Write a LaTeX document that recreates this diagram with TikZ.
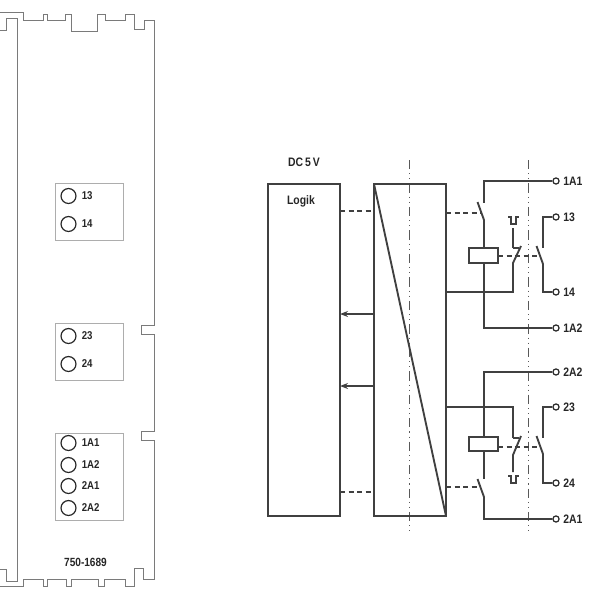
\documentclass[tikz,border=0pt]{standalone}
\usetikzlibrary{arrows.meta}
\usepackage{fontspec}
\setmainfont[FakeStretch=0.85]{Liberation Sans}
\tikzset{
  outline/.style={draw=black!52,line width=1pt},
  panel/.style={draw=black!32,line width=0.8pt,fill=white,rectangle,inner sep=0,outer sep=0,anchor=north west},
  led/.style={draw=black!85,line width=0.9pt,circle,minimum size=11.2pt,inner sep=0},
  ledlabel/.style={anchor=west,inner sep=0,font=\bfseries\fontsize{8.5}{9}\selectfont,text=black!85},
  block/.style={draw=black!75,line width=1.4pt,rectangle,inner sep=0,outer sep=0,anchor=north west},
  wire/.style={draw=black!75,line width=1.4pt},
  dashwire/.style={wire,dash pattern=on 4pt off 2.4pt},
  term/.style={draw=black!85,line width=0.9pt,fill=white,circle,minimum size=4.6pt,inner sep=0},
  termlabel/.style={anchor=west,inner sep=0,font=\bfseries\fontsize{9.2}{10}\selectfont,text=black!85},
  axis/.style={draw=black!65,line width=0.7pt,dash pattern=on 7pt off 3pt on 0.8pt off 3pt on 0.8pt off 3pt},
  coil/.style={draw=black!75,line width=1.4pt,fill=white,rectangle,outer sep=0,minimum width=21.75pt,inner sep=0},
}
\begin{document}
\begin{tikzpicture}[x=0.75pt,y=-0.75pt]
\useasboundingbox (0,0) rectangle (600,600);
% housing
\draw[outline] (0,30.5)--(6.5,30.5)--(6.5,18.5)--(17.5,18.5)--(17.5,581.5)--(6.5,581.5)--(6.5,569.5)--(0,569.5);
\draw[outline] (0,12.5)--(23.5,12.5)--(23.5,20.5)--(43.5,20.5)--(43.5,14.5)--(47.5,14.5)--(47.5,20.5)--(65.5,20.5)--(65.5,14.5)--(71.5,14.5)--(71.5,31.5)--(97.5,31.5)--(97.5,14.5)--(105.5,14.5)--(105.5,20.5)--(125.5,20.5)--(125.5,14.5)--(134.5,14.5)--(134.5,29.5)--(144.5,29.5)--(144.5,20.5)--(154.5,20.5)--(154.5,325.5)--(141.5,325.5)--(141.5,334.5)--(154.5,334.5)--(154.5,431.5)--(141.5,431.5)--(141.5,440.5)--(154.5,440.5)--(154.5,579.5)--(143.5,579.5)--(143.5,568.5)--(134.5,568.5)--(134.5,586.5)--(125.5,586.5)--(125.5,579.5)--(104.5,579.5)--(104.5,586.5)--(98.5,586.5)--(98.5,579.5)--(71.5,579.5)--(71.5,586.5)--(66.5,586.5)--(66.5,579.5)--(47.5,579.5)--(47.5,586.5)--(43.5,586.5)--(43.5,579.5)--(23.5,579.5)--(23.5,586.5)--(0,586.5);
% panels
\node[panel,minimum width=51pt,minimum height=42.75pt] (p1) at (55.5,183.5) {};
\node[panel,minimum width=51pt,minimum height=42.75pt] (p2) at (55.5,323.5) {};
\node[panel,minimum width=51pt,minimum height=65.25pt] (p3) at (55.5,433.5) {};
\foreach \n/\y/\t in {a/196/13,b/224/14,c/336/23,d/364/24,e/443/1A1,f/465/1A2,g/486/2A1,h/508/2A2}{
  \node[led] (led\n) at (68.5,\y) {};
  \node[ledlabel] (lab\n) at (81.5,\y-0.5) {\t};
}
\node[inner sep=0,font=\bfseries\fontsize{8.9}{9}\selectfont,text=black!85] (type) at (85.5,562.5) {750-1689};
% axes
\coordinate (a1t) at (409.5,160); \coordinate (a1b) at (409.5,535);
\coordinate (a2t) at (528.5,160); \coordinate (a2b) at (528.5,535);
\draw[axis] (a1t)--(a1b);
\draw[axis] (a2t)--(a2b);
% blocks
\node[inner sep=0,font=\bfseries\fontsize{9.2}{10}\selectfont,text=black!85] (dc) at (304,162.5) {DC\,5\,V};
\node[block,minimum width=54pt,minimum height=249pt] (logik) at (268,184) {};
\node[inner sep=0,font=\bfseries\fontsize{9.2}{10}\selectfont,text=black!85] (logtxt) at (301,201.5) {Logik};
\node[block,minimum width=54pt,minimum height=249pt] (iso) at (374,184) {};
\draw[wire] (iso.north west)--(iso.south east);
\draw[dashwire] (340,211)--(374,211);
\draw[dashwire] (340,492)--(374,492);
\draw[wire,-{Stealth[length=6pt,width=4.5pt]}] (374,314)--(340,314);
\draw[wire,-{Stealth[length=6pt,width=4.5pt]}] (374,386)--(340,386);
% terminals
\foreach \n/\y/\t in {1A1/181/1A1,13/217/13,14/292/14,1A2/328/1A2,2A2/372/2A2,23/407/23,24/483/24,2A1/519/2A1}{
  \node[term] (t\n) at (556,\y) {};
  \node[termlabel] (l\n) at (563,\y) {\t};
}
% coils
\node[coil,minimum height=11.25pt] (c1) at (483.5,255.5) {};
\node[coil,minimum height=10.5pt] (c2) at (483.5,444) {};
\coordinate (d1) at (540,256);
\coordinate (d2) at (540,447);
% upper relay
\draw[wire] (t1A1.west)-|(484,203);
\draw[wire] (477.5,202)--(484,220)--(484,248);
\draw[wire] (484,263)|-(t1A2.west);
\draw[dashwire] (446,213)--(481,213);
\draw[wire] (446,292)-|(513,263)--(521,246);
\draw[wire] (513,248)--(519,248);
\draw[wire] (513,248)--(513,228);
\draw[wire,line width=1pt] (508,217)--(511,217)--(511,224)--(516,224)--(516,217)--(519,217);
\draw[dashwire] (c1.east |- d1)--(d1);
\draw[wire] (t13.west)-|(543,248);
\draw[wire] (536.5,246)--(543,264)|-(t14.west);
% lower relay
\draw[wire] (t2A2.west)-|(484,437);
\draw[wire] (484,451)--(484,479);
\draw[wire] (477.5,479)--(484,497)|-(t2A1.west);
\draw[dashwire] (446,487)--(479,487);
\draw[wire] (446,407)-|(513,438);
\draw[wire] (513,438)--(519,438);
\draw[wire] (521,436)--(513,455)--(513,472);
\draw[wire,line width=1pt] (508,476)--(511,476)--(511,483)--(516,483)--(516,476)--(519,476);
\draw[dashwire] (c2.east |- d2)--(d2);
\draw[wire] (t23.west)-|(543,438);
\draw[wire] (536.5,436)--(543,454)|-(t24.west);
\end{tikzpicture}
\end{document}
